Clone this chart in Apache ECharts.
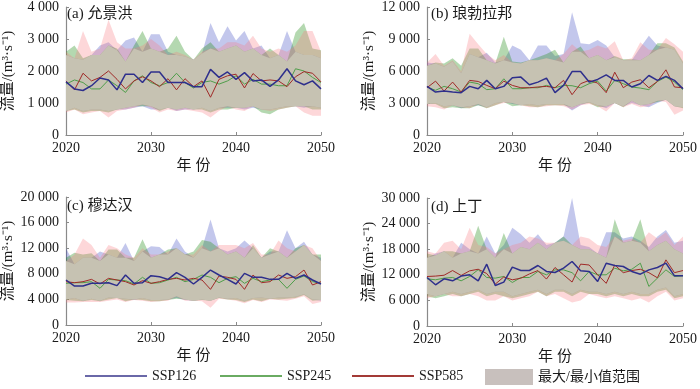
<!DOCTYPE html>
<html><head><meta charset="utf-8">
<script src="https://cdn.jsdelivr.net/npm/echarts@6/dist/echarts.min.js"></script>
<style>html,body{margin:0;padding:0;background:#fff}#c{width:700px;height:389px}</style>
</head><body><div id="c"></div>
<script>
const years = [2020,2021,2022,2023,2024,2025,2026,2027,2028,2029,2030,2031,2032,2033,2034,2035,2036,2037,2038,2039,2040,2041,2042,2043,2044,2045,2046,2047,2048,2049,2050];
const seriesNames = ['SSP126','SSP245','SSP585'];
const rangeName = '最大/最小值范围';
const panelTitles = ['(a) 允景洪','(b) 琅勃拉邦','(c) 穆达汉','(d) 上丁'];
const yMax = [4000,12000,20000,30000];
const yStep = [1000,3000,4000,6000];

// (a) 允景洪
const a_ssp126 = [1660,1440,1390,1540,1780,1720,1410,1900,1900,1640,1970,1970,1640,1640,1640,1510,1510,2050,1800,1970,1740,1950,1690,1720,1520,1720,2070,1690,1570,1690,1440];
const a_ssp245 = [1590,1720,1640,1440,1440,1720,1540,1330,1690,1850,1640,1540,1640,1930,1640,1470,1640,1690,1590,1690,1850,1590,1740,1590,1590,1540,1540,2070,2000,1800,1640];
const a_ssp585 = [1690,1410,1930,1690,1800,2000,1740,1440,1690,1820,1690,1510,1760,1410,1760,1510,1690,1180,1740,1850,1900,1470,1920,1690,1720,1690,1510,1820,1980,1930,1660];
const a_max126 = [2500,2400,2350,2500,2800,2900,2650,2950,3050,2600,3150,3150,2600,2500,2450,2350,2550,3500,2900,3400,2950,3250,2700,2800,2400,2500,3250,2600,2500,2500,2400];
const a_min126 = [750,850,750,800,800,750,800,800,850,900,800,800,850,750,800,800,850,750,850,850,850,800,850,800,800,850,900,900,850,900,850];
const a_max245 = [2600,2800,2400,2500,2500,2800,2700,2300,2800,3250,2700,2600,2700,3100,2600,2350,2700,2900,2600,2700,2800,2600,2700,2500,2700,2500,2300,3200,3500,2700,2650];
const a_min245 = [750,800,700,750,750,700,800,850,900,900,900,750,850,800,850,800,800,700,800,800,850,850,900,700,650,800,850,900,900,800,800];
const a_max585 = [2600,2400,3250,2600,2700,3600,2900,2700,2700,2800,3000,2800,2500,2600,2500,2350,2600,2700,2700,2900,2900,2800,3100,2700,2600,2700,2600,2800,3250,3250,2600];
const a_min585 = [700,800,650,700,750,550,750,800,850,950,850,700,800,750,800,750,700,550,750,900,800,750,900,800,750,800,850,900,700,600,600];

// (b) 琅勃拉邦
const b_ssp126 = [4560,4030,4120,4030,3970,4560,4340,5120,4340,4560,5360,5430,4710,4960,5330,3970,4650,5950,5950,4960,5210,5640,5120,5120,4500,4810,5580,5120,5490,5120,4340];
const b_ssp245 = [4500,4190,4560,4340,4030,4960,4810,4250,4340,5270,4340,4340,4430,4430,4650,4430,4650,4620,4430,4810,5050,4120,5120,4810,4500,4400,4250,5020,5430,4960,4250];
const b_ssp585 = [4430,5050,4120,4960,4030,5120,5020,4650,4340,5050,4650,4430,4430,4500,4560,4430,5120,3780,4810,5120,4870,3970,5890,4430,4960,5180,4430,5020,6110,4500,4430];
const b_max126 = [6800,6700,6400,6900,5800,7600,7300,7700,6800,7000,8400,8000,7000,8400,8400,7400,7600,11500,8600,8500,8900,8400,7300,7000,7000,8200,9300,8400,8200,8000,6700];
const b_min126 = [2900,3000,2700,2800,2500,2700,2800,2600,3000,3100,2900,2800,2900,2800,2900,2900,2900,2300,2800,3100,2800,2500,3000,2700,3000,2800,2600,3000,3300,2700,2600];
const b_max245 = [6500,6800,6700,7200,6500,8100,8100,7000,6700,9200,6900,6800,7000,7300,7600,8000,6800,7800,8300,7200,7500,7000,7400,7100,7100,7000,7500,8600,8600,8200,6900];
const b_min245 = [2900,2900,2500,2600,2500,2500,2800,2500,2800,3100,2700,2800,2700,2600,2800,2800,2800,2600,2900,3000,2600,2700,3000,2600,3200,2800,2900,3100,3300,2700,2500];
const b_max585 = [6800,7600,6500,7000,6000,9500,8500,7600,7000,7500,6800,6700,7000,7000,7200,7000,7600,8500,7800,8000,8400,8100,8800,7000,7200,8700,8000,8000,9100,8500,7800];
const b_min585 = [2700,2600,2400,2800,2600,2500,2900,2500,2800,3000,3000,2800,2600,2600,2700,2800,2700,2400,2800,2900,2700,2200,3000,2600,2900,2600,2700,3200,3100,1900,2300];

// (c) 穆达汉
const c_ssp126 = [7030,6090,6090,6510,6510,6610,6150,7810,6510,6610,7710,7550,7130,8180,7450,6410,7450,8590,7810,7130,6410,8070,7450,7450,7130,7130,8070,7290,7810,7030,6410];
const c_ssp245 = [6510,6610,6610,6770,5730,7130,7030,6930,6410,7450,6510,6610,7030,7450,6770,7130,7810,7450,6610,7290,7550,6510,7290,6770,7030,7130,5730,7130,7660,6770,6510];
const c_ssp585 = [6770,6610,6770,7130,6410,7290,7030,6770,6250,6930,6510,6770,7130,7290,7030,7290,7030,5570,7660,7450,7130,5570,7810,6610,6770,7810,7290,7550,8590,6250,6770];
const c_max126 = [12000,9500,10500,10500,11500,11000,10500,12800,10000,11500,12300,12200,11000,13500,11500,10500,12000,16500,12000,11500,12000,13200,12000,10500,11500,11500,14800,12000,13000,11000,10500];
const c_min126 = [4000,4200,3800,4100,3800,4300,4200,4100,3900,4200,3900,3900,4000,4200,3900,3800,4000,3800,4300,4100,4200,3800,4200,4300,4100,4300,4300,4400,4800,4000,3800];
const c_max245 = [10500,11300,11000,11200,10000,11800,11800,10500,10500,13400,10500,11000,11800,12000,11000,11500,13300,13000,12000,11000,11500,10500,12500,10500,12000,11500,10500,12000,12500,11000,11000];
const c_min245 = [3900,3800,3700,3900,3700,4000,4200,3700,4000,3900,3700,3700,3900,4100,4000,3800,3900,3800,4200,4000,3900,3600,4000,3700,4100,4000,4100,4200,4700,3800,3900];
const c_max585 = [10000,11000,13500,12500,10500,12500,12000,11000,10500,12000,11000,11000,11500,12000,11000,11000,12500,11500,12500,12500,12500,12000,12800,11000,11000,13200,12000,11500,12500,12000,10000];
const c_min585 = [3500,3500,3600,3600,3600,3800,4000,3600,3900,3800,3600,3700,3800,4500,3800,3800,3700,2700,4100,4000,3800,3400,3900,3600,4000,3900,3800,4100,4500,3300,3600];

// (d) 上丁
const d_ssp126 = [11370,9660,11060,10590,11700,12000,10590,14490,9500,10280,13800,13010,13010,14180,12780,12540,13550,15110,12930,12780,10440,14720,14180,13940,12780,12150,13160,13710,14720,11760,11760];
const d_ssp245 = [11060,10830,11220,11370,10590,11610,13200,11370,11220,11610,10200,11370,11370,12780,12000,13160,13160,12500,10590,12780,12000,12000,13550,12930,13300,14720,9270,11220,13160,11610,11760];
const d_ssp585 = [11600,11700,11900,13000,11840,12930,13300,12300,9820,11500,10830,11200,12200,13000,11000,13710,12000,10300,14500,14300,12000,10000,14300,12500,13000,13300,12500,11300,15500,12500,13000];
const d_max126 = [16000,17000,17500,16000,19500,18000,17000,21000,17000,19000,23000,21500,19500,21500,19000,19500,21000,30000,19000,18500,17000,22000,22000,20500,21000,20000,18500,21000,22500,19500,20000];
const d_min126 = [7500,7000,7500,8000,7500,8000,8500,7500,8000,8000,7000,7500,8000,8500,7500,8500,8500,7500,8500,8000,8000,7500,8000,7500,8000,7500,7500,8500,9000,7000,7500];
const d_max245 = [17000,16500,17500,17500,17000,17500,23500,18000,16000,21800,17000,18500,18000,19500,18000,19500,21000,19000,18000,18000,17000,16000,25000,19500,20000,25000,17500,19000,20000,18000,17000];
const d_min245 = [7000,6500,7000,7500,7000,7500,8000,7000,7500,7000,6500,7000,7500,8000,7000,8000,8000,7000,8000,7500,7500,7000,7500,7000,7500,7000,7000,8000,8500,6500,7000];
const d_max585 = [17500,17000,19500,20000,18000,23000,19000,18500,17000,18000,19000,19500,21000,20500,19500,19500,20000,19000,21000,20500,19000,18500,21000,20000,20500,19500,22000,20500,22000,19000,21000];
const d_min585 = [6500,7000,7500,7000,7000,7500,7000,6000,6000,7000,6000,6500,7000,8000,7000,7500,6500,5500,6000,7500,7000,6500,7000,6500,6000,6500,5500,7000,8000,6000,6500];

const panels = [
  {lines:[a_ssp126,a_ssp245,a_ssp585], max:[a_max126,a_max245,a_max585], min:[a_min126,a_min245,a_min585]},
  {lines:[b_ssp126,b_ssp245,b_ssp585], max:[b_max126,b_max245,b_max585], min:[b_min126,b_min245,b_min585]},
  {lines:[c_ssp126,c_ssp245,c_ssp585], max:[c_max126,c_max245,c_max585], min:[c_min126,c_min245,c_min585]},
  {lines:[d_ssp126,d_ssp245,d_ssp585], max:[d_max126,d_max245,d_max585], min:[d_min126,d_min245,d_min585]}
];

const FONT = "'Liberation Serif','Noto Sans CJK SC',serif";
const lineColors = ['#2e2f8c','#4f9e4a','#a02a28'];
const bandColors = ['#3744c0','#29901d','#f87a80'];
const bandOpacity = [0.3, 0.35, 0.3];
const rangeColor = '#c6c2b2';
const axisColor = '#8a8a8a';

const grids = [
  {left:63, top:5, width:258, height:130},
  {left:427, top:5, width:258, height:130},
  {left:63, top:197, width:258, height:128},
  {left:427, top:198, width:258, height:128}
];

function fmt(v){ return String(v).replace(/\B(?=(\d{3})+(?!\d))/g,' '); }

const xAxes = [], yAxes = [], series = [], titles = [];
grids.forEach((g,gi)=>{
  xAxes.push({gridIndex:gi, type:'category', data:years.map(String), boundaryGap:false,
    name:'年 份', nameLocation:'middle', nameGap:24,
    nameTextStyle:{fontFamily:FONT, fontSize:15, color:'#1a1a1a'},
    axisLine:{lineStyle:{color:axisColor, width:1.2}},
    axisTick:{inside:true, length:3, interval:9, lineStyle:{color:axisColor}},
    axisLabel:{fontFamily:FONT, fontSize:14, color:'#1a1a1a', margin:6, interval:9, showMaxLabel:true},
    splitLine:{show:false}});
  yAxes.push({gridIndex:gi, type:'value', min:0, max:yMax[gi], interval:yStep[gi],
    name:'流量/(m³·s⁻¹)', nameLocation:'middle', nameRotate:90, nameGap:50,
    nameTextStyle:{fontFamily:FONT, fontSize:15, color:'#1a1a1a'},
    axisLine:{show:true, lineStyle:{color:axisColor, width:1.2}},
    axisTick:{show:true, inside:true, length:3, lineStyle:{color:axisColor}},
    axisLabel:{fontFamily:FONT, fontSize:14, color:'#1a1a1a', margin:7, formatter:fmt},
    splitLine:{show:false}});
  titles.push({text:panelTitles[gi], left:g.left+4, top:g.top+2, padding:0,
    textStyle:{fontFamily:FONT, fontSize:15, fontWeight:'normal', color:'#1a1a1a'}});

  const p = panels[gi];
  const addBand = (low, high, color, opacity, key, name) => {
    series.push({type:'line', name:key+'_low', xAxisIndex:gi, yAxisIndex:gi, stack:key,
      data: low.slice(), symbol:'none', lineStyle:{opacity:0, width:0},
      silent:true, z:1});
    series.push({type:'line', name:name||key, xAxisIndex:gi, yAxisIndex:gi, stack:key,
      data: high.map((h,i)=>Math.max(0, h-low[i])), symbol:'none',
      lineStyle:{opacity:0, width:0}, itemStyle:{color:color},
      areaStyle:{color:color, opacity:opacity}, silent:true, z:1});
  };
  for (let s=0;s<3;s++) addBand(p.min[s], p.max[s], bandColors[s], bandOpacity[s], 'g'+gi+'s'+s);
  const lowAll = years.map((y,i)=>Math.max(p.min[0][i],p.min[1][i],p.min[2][i]));
  const highAll = years.map((y,i)=>Math.min(p.max[0][i],p.max[1][i],p.max[2][i]));
  addBand(lowAll, highAll, rangeColor, 1, 'g'+gi+'all', rangeName);

  [1,2,0].forEach(s=>{
    series.push({type:'line', name:seriesNames[s], xAxisIndex:gi, yAxisIndex:gi,
      data: p.lines[s].slice(), symbol:'none',
      lineStyle:{color:lineColors[s], width: s===0?1.5:1}, itemStyle:{color:lineColors[s]},
      z:3, silent:true});
  });
});

const legendBase = {top:369, padding:0, itemGap:0, textStyle:{fontFamily:FONT, fontSize:14, color:'#1a1a1a'},
  itemStyle:{borderWidth:0}, selectedMode:false};
const legends = [
  Object.assign({}, legendBase, {left:85, itemWidth:62, itemHeight:2, data:[{name:'SSP126', icon:'rect', itemStyle:{color:'#6a68a8'}}]}),
  Object.assign({}, legendBase, {left:220, itemWidth:62, itemHeight:2, data:[{name:'SSP245', icon:'rect', itemStyle:{color:'#6aab62'}}]}),
  Object.assign({}, legendBase, {left:352, itemWidth:62, itemHeight:2, data:[{name:'SSP585', icon:'rect', itemStyle:{color:'#a33a36'}}]}),
  Object.assign({}, legendBase, {left:485, top:369, itemWidth:48, itemHeight:16, data:[{name:rangeName, icon:'rect', itemStyle:{color:'#c8c0bd'}}]})
];

const chart = echarts.init(document.getElementById('c'), null, {renderer:'canvas'});
chart.setOption({
  animation:false,
  backgroundColor:'#ffffff',
  title:titles,
  grid:grids,
  xAxis:xAxes,
  yAxis:yAxes,
  legend:legends,
  series:series
});
</script></body></html>
